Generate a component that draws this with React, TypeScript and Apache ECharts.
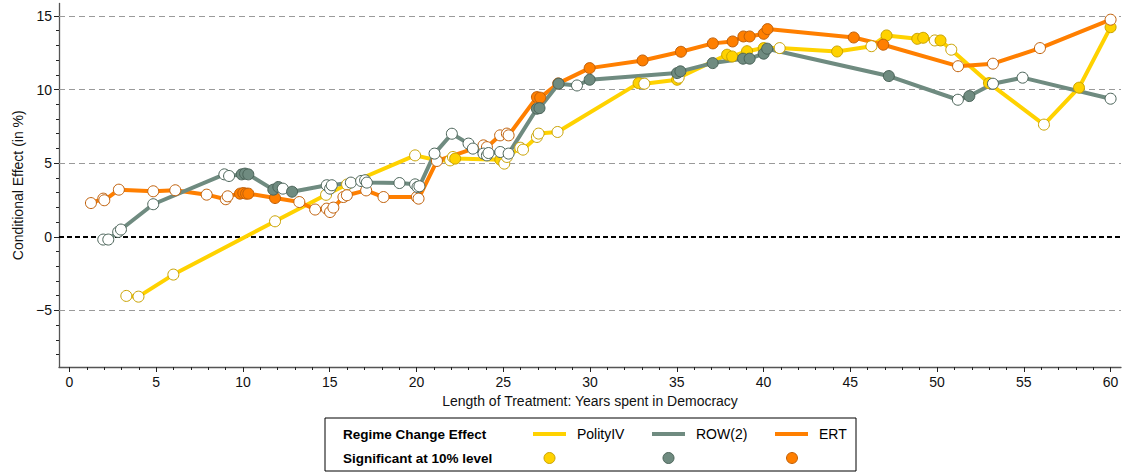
import React, { useEffect, useRef } from "react";
import * as echarts from "echarts";

// ---- data: [x (years), y (%), significant(1/0)] ----
const polityX = [3.28, 3.98, 5.99, 11.85, 14.79, 16.0, 19.92, 21.18, 21.94, 22.1, 22.23, 24.83, 25.06, 25.21, 25.98, 26.14, 26.94, 27.04, 28.13, 32.8, 33.13, 35.02, 35.11, 37.9, 38.19, 39.05, 40.01, 40.93, 44.24, 46.22, 47.09, 48.86, 49.2, 49.87, 50.2, 50.82, 52.99, 56.16, 58.18, 60.0];
const polityY = [-4.02, -4.07, -2.57, 1.05, 2.85, 3.55, 5.53, 5.2, 5.19, 5.42, 5.31, 5.24, 4.97, 5.42, 6.05, 5.92, 6.78, 7.01, 7.12, 10.44, 10.4, 10.67, 10.81, 12.37, 12.25, 12.61, 12.82, 12.82, 12.59, 12.95, 13.68, 13.45, 13.52, 13.34, 13.34, 12.71, 10.44, 7.62, 10.13, 14.24];
const politySig = [0, 0, 0, 0, 0, 0, 0, 0, 0, 0, 1, 1, 0, 0, 0, 0, 0, 0, 0, 1, 0, 1, 0, 1, 1, 1, 1, 0, 1, 0, 1, 1, 1, 0, 1, 0, 1, 0, 1, 1];

const rowX = [1.95, 2.24, 2.81, 2.97, 4.83, 8.93, 9.2, 9.93, 10.12, 10.31, 11.75, 12.04, 12.3, 12.83, 14.83, 15.02, 15.12, 16.22, 16.81, 17.04, 17.14, 19.02, 19.92, 20.06, 20.17, 21.04, 22.04, 23.0, 23.25, 23.86, 24.06, 24.15, 24.83, 25.31, 26.94, 27.09, 28.19, 29.25, 29.98, 35.02, 35.21, 37.07, 38.82, 39.2, 40.01, 40.21, 47.22, 51.2, 51.86, 53.22, 54.93, 60.0];
const rowY = [-0.19, -0.19, 0.33, 0.49, 2.21, 4.24, 4.13, 4.24, 4.29, 4.24, 3.2, 3.38, 3.27, 3.06, 3.5, 3.27, 3.5, 3.68, 3.79, 3.84, 3.68, 3.65, 3.56, 3.38, 3.43, 5.65, 7.0, 6.33, 5.99, 5.65, 5.53, 5.69, 5.76, 5.65, 8.7, 8.74, 10.4, 10.28, 10.67, 11.12, 11.24, 11.8, 12.1, 12.1, 12.44, 12.78, 10.92, 9.31, 9.56, 10.4, 10.81, 9.38];
const rowSig = [0, 0, 0, 0, 0, 0, 0, 1, 1, 1, 1, 1, 0, 1, 0, 0, 0, 0, 0, 0, 0, 0, 0, 0, 0, 0, 0, 0, 0, 0, 0, 0, 0, 0, 1, 1, 1, 0, 1, 1, 1, 1, 1, 1, 1, 1, 1, 0, 1, 0, 0, 0];

const ertX = [1.24, 1.95, 2.01, 2.85, 4.83, 6.1, 7.91, 9.01, 9.12, 9.83, 10.02, 10.18, 10.31, 11.85, 13.25, 14.16, 14.83, 15.02, 15.21, 15.79, 15.99, 17.1, 18.1, 20.02, 20.12, 21.18, 23.86, 24.06, 24.82, 25.21, 25.31, 26.94, 27.13, 28.17, 29.98, 33.03, 35.24, 37.08, 38.22, 38.84, 39.2, 40.01, 40.23, 45.2, 46.9, 51.21, 53.22, 55.93, 60.0];
const ertY = [2.29, 2.59, 2.48, 3.2, 3.09, 3.16, 2.86, 2.55, 2.75, 2.93, 2.97, 2.93, 2.93, 2.63, 2.36, 1.85, 1.91, 1.68, 1.98, 2.7, 2.82, 3.15, 2.7, 2.7, 2.59, 5.15, 6.21, 6.09, 6.89, 7.01, 6.89, 9.49, 9.45, 10.42, 11.46, 11.98, 12.57, 13.14, 13.27, 13.61, 13.61, 13.79, 14.11, 13.54, 13.05, 11.59, 11.76, 12.82, 14.75];
const ertSig = [0, 0, 0, 0, 0, 0, 0, 0, 0, 1, 1, 1, 1, 1, 0, 0, 0, 0, 0, 0, 0, 0, 0, 0, 0, 0, 0, 0, 0, 0, 0, 1, 1, 1, 1, 1, 1, 1, 1, 1, 1, 1, 1, 1, 1, 0, 0, 0, 0];

const xMajorTicks = [0, 5, 10, 15, 20, 25, 30, 35, 40, 45, 50, 55, 60];
const yMajorTicks = [-5, 0, 5, 10, 15];
const xMinorTicks = Array.from({ length: 61 }, (_, i) => i);
const yMinorTicks = Array.from({ length: 24 }, (_, i) => i - 8);
const gridValues = [-5, 5, 10, 15];

const seriesNames = ["PolityIV", "ROW(2)", "ERT"];

const FONT = "Liberation Sans, Arial, Helvetica, sans-serif";
const COLORS = {
  polity: { line: "#FFD200", fill: "#FFD200", border: "#C9A200" },
  row: { line: "#6F8B80", fill: "#6F8B80", border: "#4A6358" },
  ert: { line: "#FF7F00", fill: "#FF7F00", border: "#C0600A" },
};

function buildData(xs: number[], ys: number[], sig: number[], c: { fill: string; border: string }) {
  return xs.map((x, i) => ({
    value: [x, ys[i]],
    itemStyle: {
      color: sig[i] ? c.fill : "#FFFFFF",
      borderColor: c.border,
      borderWidth: 1,
      opacity: 1,
    },
  }));
}

export default function App() {
  const ref = useRef<HTMLDivElement>(null);

  useEffect(() => {
    document.body.style.margin = "0";
    if (!ref.current) return;
    const chart = echarts.init(ref.current, undefined, { renderer: "svg" });

    const xMin = -0.6;
    const xMax = 60.6;
    const yMin = -8.85;
    const yMax = 15.85;

    const lineSeries = (name: string, xs: number[], ys: number[], sig: number[], c: any, extra: any = {}) => ({
      name,
      type: "line",
      xAxisIndex: 0,
      yAxisIndex: 0,
      data: buildData(xs, ys, sig, c),
      symbol: "circle",
      symbolSize: 11,
      showAllSymbol: true,
      lineStyle: { color: c.line, width: 4 },
      emphasis: { disabled: true },
      ...extra,
    });

    const option: any = {
      animation: false,
      grid: { left: 59, right: 3, top: 3.5, bottom: 107, containLabel: false, outerBoundsMode: "none" },
      xAxis: [
        {
          type: "value",
          min: xMin,
          max: xMax,
          position: "bottom",
          name: "Length of Treatment: Years spent in Democracy",
          nameLocation: "middle",
          nameGap: 25,
          nameTextStyle: { fontFamily: FONT, fontSize: 14, color: "#111" },
          axisLine: { show: true, onZero: false, lineStyle: { color: "#555", width: 1.3 } },
          axisTick: { show: true, customValues: xMajorTicks, length: 5, lineStyle: { color: "#222", width: 1 } },
          axisLabel: {
            show: true,
            customValues: xMajorTicks,
            margin: 8,
            fontFamily: FONT,
            fontSize: 14,
            color: "#111",
          },
          splitLine: { show: false },
        },
        {
          type: "value",
          min: xMin,
          max: xMax,
          position: "bottom",
          axisLine: { show: false, onZero: false },
          axisTick: { show: true, customValues: xMinorTicks, length: 3, lineStyle: { color: "#222", width: 1 } },
          axisLabel: { show: false },
          splitLine: { show: false },
        },
      ],
      yAxis: [
        {
          type: "value",
          min: yMin,
          max: yMax,
          position: "left",
          name: "Conditional Effect (in %)",
          nameLocation: "middle",
          nameGap: 34,
          nameRotate: 90,
          nameTextStyle: { fontFamily: FONT, fontSize: 14, color: "#111" },
          axisLine: { show: true, onZero: false, lineStyle: { color: "#555", width: 1.3 } },
          axisTick: { show: true, customValues: yMajorTicks, length: 5, lineStyle: { color: "#222", width: 1 } },
          axisLabel: {
            show: true,
            customValues: yMajorTicks,
            margin: 7,
            fontFamily: FONT,
            fontSize: 14,
            color: "#111",
            formatter: (v: number) => (v < 0 ? "\u2212" + Math.abs(v) : String(v)),
          },
          splitLine: { show: false },
        },
        {
          type: "value",
          min: yMin,
          max: yMax,
          position: "left",
          axisLine: { show: false, onZero: false },
          axisTick: { show: true, customValues: yMinorTicks, length: 3, lineStyle: { color: "#222", width: 1 } },
          axisLabel: { show: false },
          splitLine: { show: false },
        },
      ],
      series: [
        lineSeries(seriesNames[0], polityX, polityY, politySig, COLORS.polity, {
          markLine: {
            silent: true,
            z: 1,
            symbol: ["none", "none"],
            label: { show: false },
            emphasis: { disabled: true },
            data: [
              ...gridValues.map((v) => ({
                yAxis: v,
                lineStyle: { color: "#9a9a9a", width: 1, type: [6, 4] },
              })),
              { yAxis: 0, lineStyle: { color: "#000", width: 2, type: [5, 3] } },
            ],
          },
        }),
        lineSeries(seriesNames[2], ertX, ertY, ertSig, COLORS.ert),
        lineSeries(seriesNames[1], rowX, rowY, rowSig, COLORS.row),
      ],
      graphic: [
        {
          type: "rect",
          shape: { x: 325, y: 418, width: 531, height: 53 },
          style: { fill: "#fff", stroke: "#000", lineWidth: 1 },
          z: 10,
        },
        {
          type: "text",
          x: 343,
          y: 434,
          style: { text: "Regime Change Effect", font: `bold 13.5px ${FONT}`, fill: "#000", verticalAlign: "middle" },
          z: 11,
        },
        {
          type: "text",
          x: 343,
          y: 458,
          style: { text: "Significant at 10% level", font: `bold 13.5px ${FONT}`, fill: "#000", verticalAlign: "middle" },
          z: 11,
        },
        { type: "line", shape: { x1: 533, y1: 434, x2: 566, y2: 434 }, style: { stroke: COLORS.polity.line, lineWidth: 4 }, z: 11 },
        { type: "line", shape: { x1: 652, y1: 434, x2: 685, y2: 434 }, style: { stroke: COLORS.row.line, lineWidth: 4 }, z: 11 },
        { type: "line", shape: { x1: 775, y1: 434, x2: 808, y2: 434 }, style: { stroke: COLORS.ert.line, lineWidth: 4 }, z: 11 },
        {
          type: "text",
          x: 577,
          y: 434,
          style: { text: seriesNames[0], font: `14px ${FONT}`, fill: "#000", verticalAlign: "middle" },
          z: 11,
        },
        {
          type: "text",
          x: 696,
          y: 434,
          style: { text: seriesNames[1], font: `14px ${FONT}`, fill: "#000", verticalAlign: "middle" },
          z: 11,
        },
        {
          type: "text",
          x: 819,
          y: 434,
          style: { text: seriesNames[2], font: `14px ${FONT}`, fill: "#000", verticalAlign: "middle" },
          z: 11,
        },
        { type: "circle", shape: { cx: 549.5, cy: 458, r: 5.5 }, style: { fill: COLORS.polity.fill, stroke: COLORS.polity.border, lineWidth: 1 }, z: 11 },
        { type: "circle", shape: { cx: 668.5, cy: 458, r: 5.5 }, style: { fill: COLORS.row.fill, stroke: COLORS.row.border, lineWidth: 1 }, z: 11 },
        { type: "circle", shape: { cx: 792, cy: 458, r: 5.5 }, style: { fill: COLORS.ert.fill, stroke: COLORS.ert.border, lineWidth: 1 }, z: 11 },
      ],
    };

    chart.setOption(option);
    return () => {
      chart.dispose();
    };
  }, []);

  return (
    <div
      ref={ref}
      style={{ position: "absolute", left: 0, top: 0, width: 1124, height: 474, background: "#fff" }}
    />
  );
}
